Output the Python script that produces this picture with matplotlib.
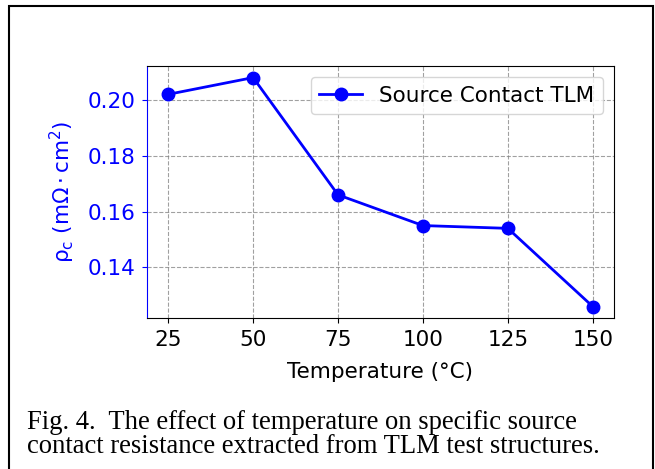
import matplotlib
matplotlib.use('agg')
import matplotlib.pyplot as plt
from matplotlib.patches import Rectangle

# data
temperature = [25, 50, 75, 100, 125, 150]
rho_c = [0.202, 0.208, 0.166, 0.155, 0.154, 0.126]
series_label = 'Source Contact TLM'
caption_lines = ['Fig. 4.  The effect of temperature on specific source',
                 'contact resistance extracted from TLM test structures.']

fs = 15.5

fig = plt.figure(figsize=(6.55, 4.69), dpi=100)
ax = fig.add_axes([0.2244, 0.322, 0.713, 0.537])

ax.plot(temperature, rho_c, color='blue', marker='o', linewidth=2,
        markersize=9, label=series_label)
ax.set_xticks(temperature)
ax.set_yticks([0.14, 0.16, 0.18, 0.20])
ax.tick_params(labelsize=fs, pad=5)
ax.tick_params(axis='y', colors='blue')
ax.spines['left'].set_color('blue')
ax.grid(True, linestyle='--', color='gray', alpha=0.75)
ax.set_xlabel('Temperature (°C)', fontsize=fs, labelpad=9)
ax.set_ylabel(r'$\mathregular{\rho_c\ (m\Omega \cdot cm^2)}$', fontsize=fs,
              color='blue', labelpad=7.5)
ax.legend(loc='upper right', fontsize=fs)

# caption under the chart, in a serif face like the paper
for i, line in enumerate(caption_lines):
    fig.text(27 / 655, 1 - (429 + 24 * i) / 469, line, fontsize=19.2,
             family='Liberation Serif', va='baseline', ha='left')

# frame round figure and caption, running off the bottom edge
frame = Rectangle((9 / 655, -0.05), (653 - 9) / 655, 1.05 - 6 / 469,
                  transform=fig.transFigure, fill=False, edgecolor='black',
                  linewidth=1.5, clip_on=False)
fig.patches.append(frame)

plt.savefig('out.png', dpi=100)
